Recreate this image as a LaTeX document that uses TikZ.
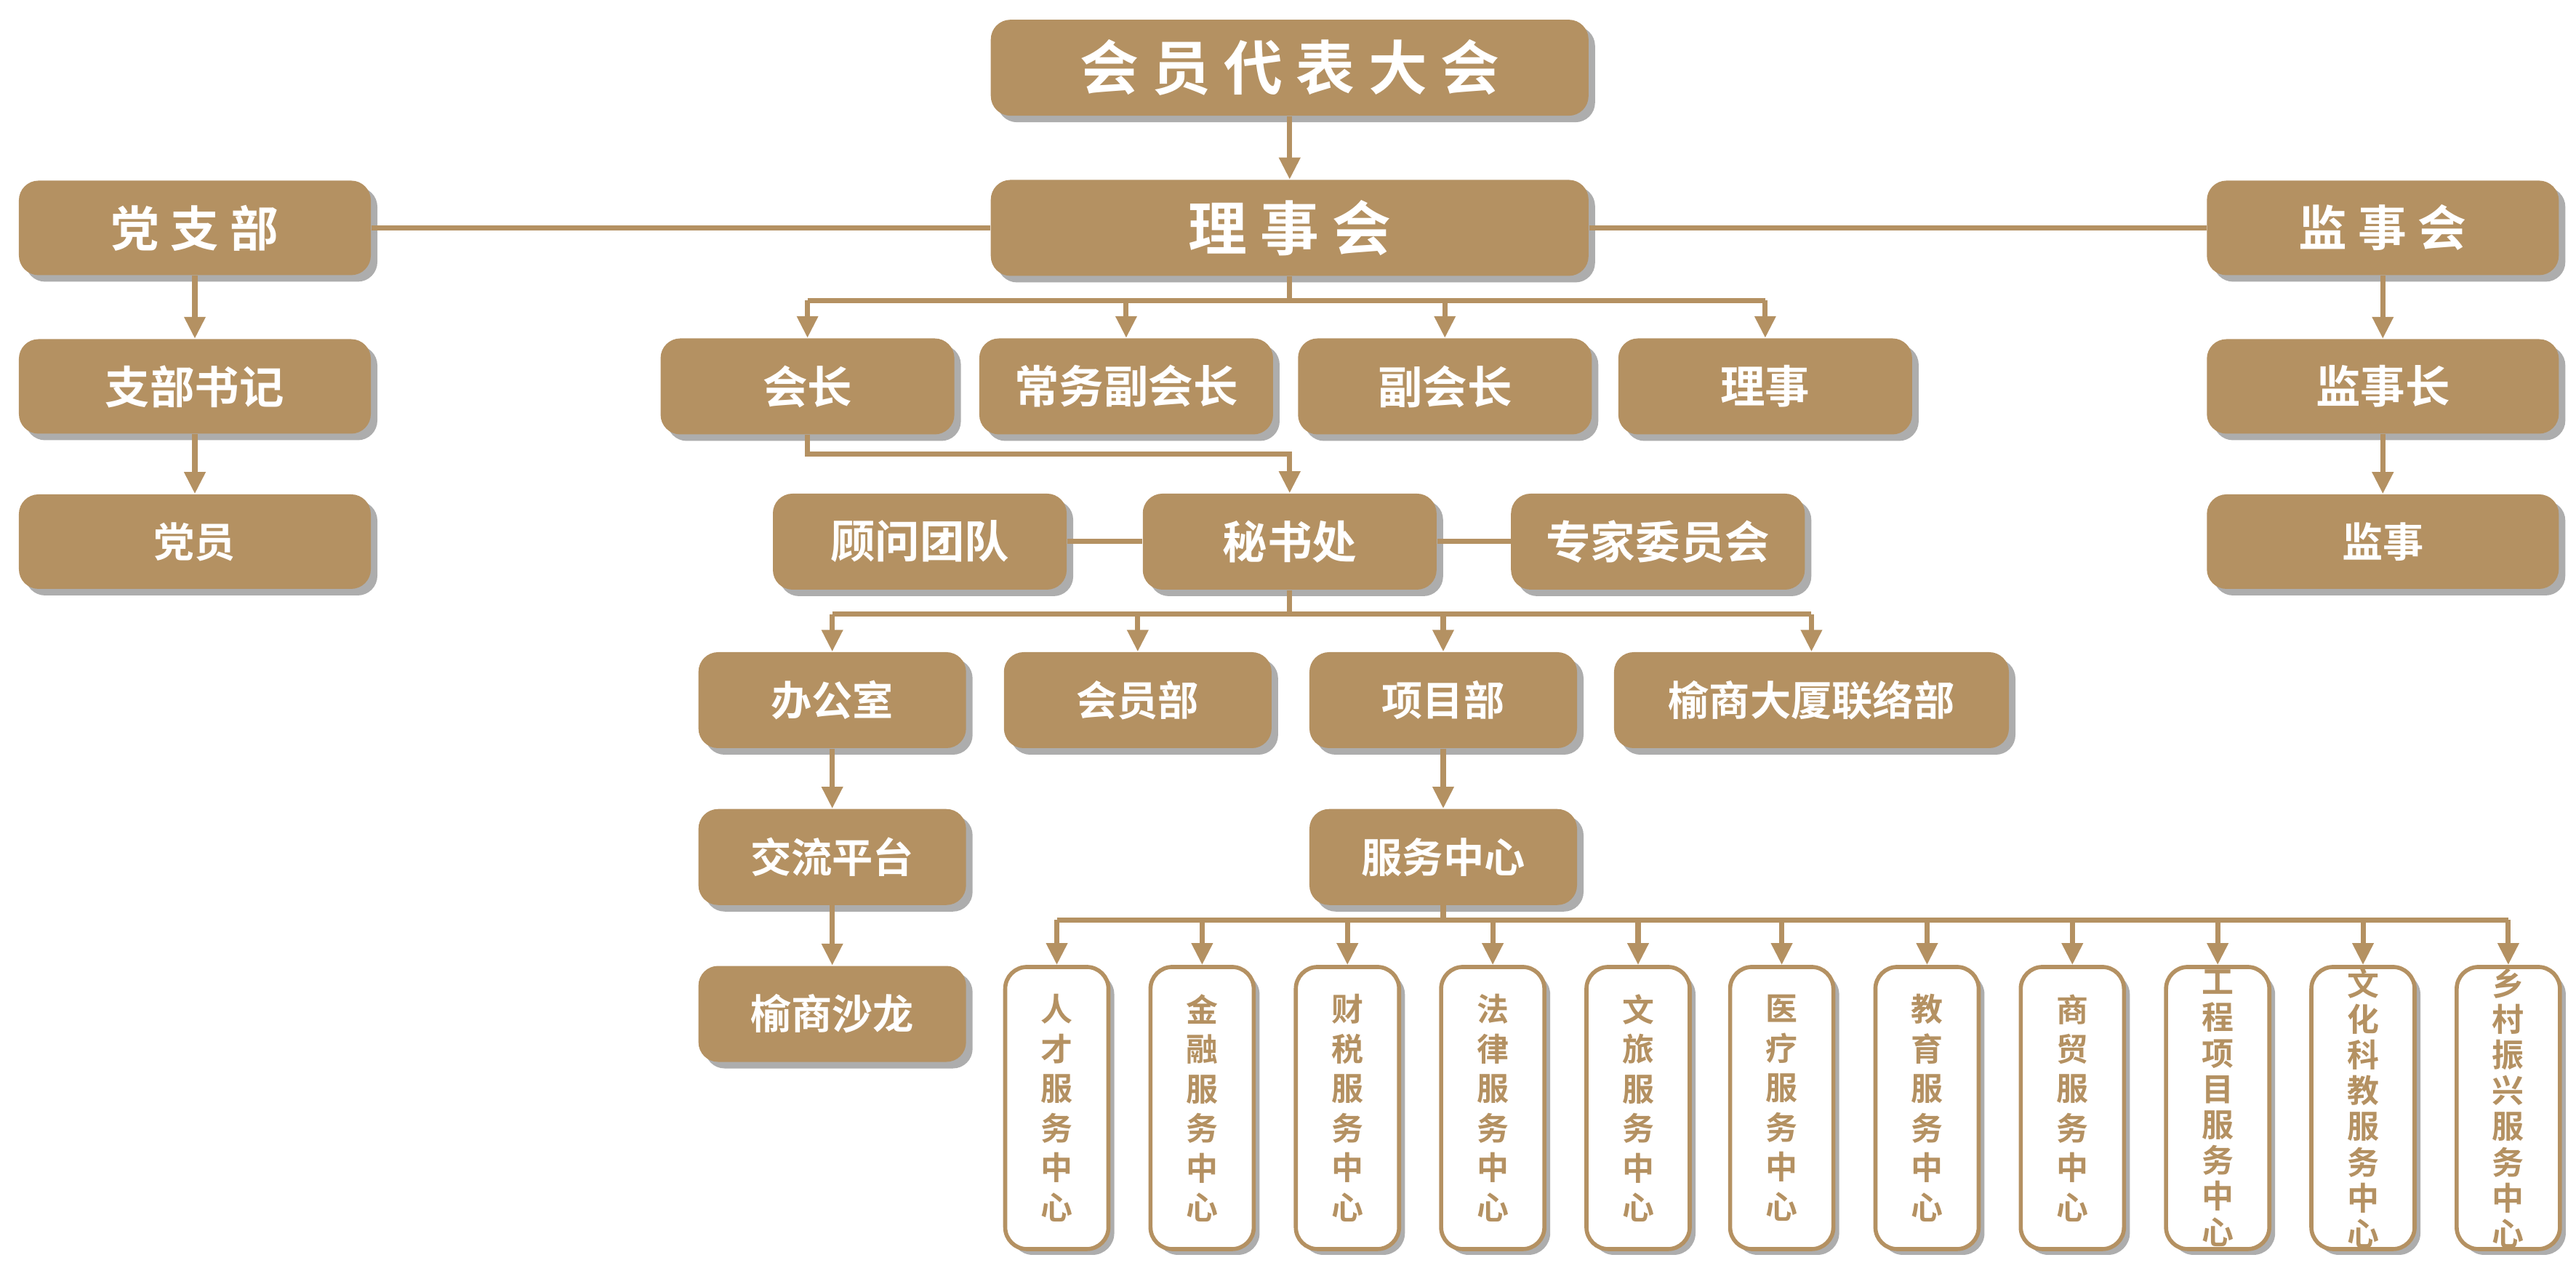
\documentclass[tikz,border=0pt]{standalone}
\usepackage{fontspec}
\setmainfont{Noto Sans CJK SC}[UprightFont=* Bold]
\usetikzlibrary{positioning, arrows.meta, shadows}
\definecolor{gold}{RGB}{180,145,98}
\tikzset{
	box/.style={rectangle, rounded corners=0.27cm, fill=gold, text=white, inner sep=0pt,
		drop shadow={shadow xshift=0.09cm, shadow yshift=-0.09cm, fill=black!32, opacity=1}},
	big/.style={box, minimum width=8.22cm, minimum height=1.32cm, font=\fontsize{23}{26}\selectfont},
	side/.style={box, minimum width=4.84cm, minimum height=1.3cm, font=\fontsize{19}{22}\selectfont},
	mid/.style={box, minimum width=4.04cm, minimum height=1.32cm, font=\fontsize{17.5}{20}\selectfont},
	sub/.style={box, minimum width=3.68cm, minimum height=1.32cm, font=\fontsize{16}{19}\selectfont},
	center/.style={rectangle, rounded corners=0.3cm, draw=gold, line width=1.6pt, fill=white, text=gold,
		minimum width=1.42cm, minimum height=3.88cm, inner sep=0pt, align=center,
		drop shadow={shadow xshift=0.08cm, shadow yshift=-0.08cm, fill=black!32, opacity=1}},
	link/.style={draw=gold, line width=2pt},
	arr/.style={link, -{Triangle[length=3mm, width=2.8mm]}}
}
\begin{document}
\begin{tikzpicture}[x=0.2271mm, y=-0.2271mm]
	\useasboundingbox (0,0) rectangle (1560,767.5);
	% top level
	\node[big] (congress) at (781,41) {会 员 代 表 大 会};
	\node[big] (council) at (781,138) {理 事 会};
	\node[side] (party) at (118,138) {党 支 部};
	\node[side] (supervise) at (1443,138) {监 事 会};
	
	% council members
	\node[mid] (chair) at (489,234) {会长};
	\node[mid] (execvice) at (682,234) {常务副会长};
	\node[mid] (vice) at (875,234) {副会长};
	\node[mid] (director) at (1069,234) {理事};
	\node[side, font=\fontsize{17.5}{20}\selectfont] (secretary) at (118,234) {支部书记};
	\node[side, font=\fontsize{17.5}{20}\selectfont] (chief) at (1443,234) {监事长};
	
	% secretariat row
	\node[side, font=\fontsize{16}{19}\selectfont] (member) at (118,328) {党员};
	\node[side, font=\fontsize{16}{19}\selectfont] (supervisor) at (1443,328) {监事};
	\node[mid] (advisor) at (557,328) {顾问团队};
	\node[mid] (office) at (781,328) {秘书处};
	\node[mid] (expert) at (1004,328) {专家委员会};
	
	% departments
	\node[sub] (admin) at (504,424) {办公室};
	\node[sub] (members) at (689,424) {会员部};
	\node[sub] (project) at (874,424) {项目部};
	\node[sub, minimum width=5.43cm] (liaison) at (1097,424) {榆商大厦联络部};
	\node[sub] (platform) at (504,519) {交流平台};
	\node[sub] (service) at (874,519) {服务中心};
	\node[sub] (salon) at (504,614) {榆商沙龙};
	
	% service centers
	\foreach \n/\x/\t in {
		1/640/人\\才\\服\\务\\中\\心,
		2/728/金\\融\\服\\务\\中\\心,
		3/816/财\\税\\服\\务\\中\\心,
		4/904/法\\律\\服\\务\\中\\心,
		5/992/文\\旅\\服\\务\\中\\心,
		6/1079/医\\疗\\服\\务\\中\\心,
		7/1167/教\\育\\服\\务\\中\\心,
		8/1255/商\\贸\\服\\务\\中\\心} {
		\node[center, font=\fontsize{12.5}{15.5}\selectfont] (sc\n) at (\x,671) {\t};
	}
	\node[center, font=\fontsize{12.5}{14}\selectfont] (sc9) at (1343,671) {工\\程\\项\\目\\服\\务\\中\\心};
	\node[center, font=\fontsize{12.5}{14}\selectfont] (sc10) at (1431,671) {文\\化\\科\\教\\服\\务\\中\\心};
	\node[center, font=\fontsize{12.5}{14}\selectfont] (sc11) at (1519,671) {乡\\村\\振\\兴\\服\\务\\中\\心};
	
	% connections
	\draw[arr] (congress) -- (council);
	\draw[link] (party) -- (council);
	\draw[link] (council) -- (supervise);
	\draw[arr] (party) -- (secretary);
	\draw[arr] (secretary) -- (member);
	\draw[arr] (supervise) -- (chief);
	\draw[arr] (chief) -- (supervisor);
	
	\coordinate (cbus) at (781,182);
	\draw[link] (council) -- (cbus);
	\draw[link] (chair |- cbus) -- (director |- cbus);
	\foreach \m in {chair, execvice, vice, director} {
		\draw[arr] (\m |- cbus) -- (\m);
	}
	
	\coordinate (obus) at (781,275);
	\draw[arr] (chair) |- (obus) -- (office);
	\draw[link] (advisor) -- (office);
	\draw[link] (office) -- (expert);
	
	\coordinate (dbus) at (781,372);
	\draw[link] (office) -- (dbus);
	\draw[link] (admin |- dbus) -- (liaison |- dbus);
	\foreach \m in {admin, members, project, liaison} {
		\draw[arr] (\m |- dbus) -- (\m);
	}
	\draw[arr] (admin) -- (platform);
	\draw[arr] (platform) -- (salon);
	\draw[arr] (project) -- (service);
	
	\coordinate (sbus) at (874,557);
	\draw[link] (service) -- (sbus);
	\draw[link] (sc1 |- sbus) -- (sc11 |- sbus);
	\foreach \i in {1,...,11} {
		\draw[arr] (sc\i |- sbus) -- (sc\i);
	}
\end{tikzpicture}
\end{document}
